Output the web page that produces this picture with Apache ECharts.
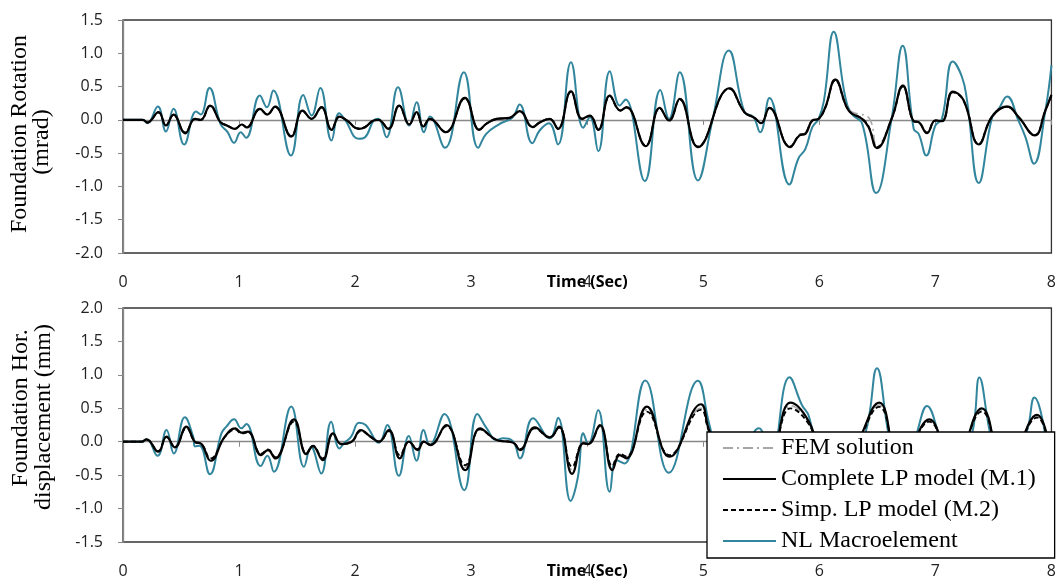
<!DOCTYPE html>
<html>
<head>
<meta charset="utf-8">
<script src="https://cdn.jsdelivr.net/npm/echarts@6/dist/echarts.min.js"></script>
<style>
  html, body { margin: 0; padding: 0; background: #fff; }
  #chart { width: 1059px; height: 581px; }
</style>
</head>
<body>
<div id="chart"></div>
<script>
// series names (legend order)
const names = ['FEM solution', 'Complete LP model (M.1)', 'Simp. LP model (M.2)', 'NL Macroelement'];

// ---- top panel: foundation rotation (mrad), [time, value] ----
const rotNL = [[0,0],[0.17,0],[0.21,-0.05],[0.30,0.2],[0.37,-0.175],[0.435,0.165],[0.527,-0.37],[0.63,0.125],[0.67,0.08],[0.745,0.48],[0.84,-0.06],[0.90,-0.18],[0.957,-0.345],[1.014,-0.185],[1.06,-0.27],[1.18,0.365],[1.24,0.19],[1.295,0.44],[1.447,-0.535],[1.553,0.375],[1.625,0.065],[1.70,0.48],[1.797,-0.31],[1.862,0.1],[1.914,0],[2.03,-0.285],[2.086,-0.26],[2.16,-0.01],[2.2,0.015],[2.27,-0.26],[2.37,0.49],[2.467,-0.085],[2.53,0.265],[2.593,-0.185],[2.645,0.05],[2.774,-0.42],[2.937,0.715],[3.06,-0.42],[3.13,-0.21],[3.246,-0.06],[3.30,-0.02],[3.36,0.04],[3.418,0.23],[3.527,-0.35],[3.59,-0.16],[3.67,-0.05],[3.748,-0.37],[3.86,0.865],[3.966,-0.12],[4.023,0.04],[4.095,-0.47],[4.195,0.73],[4.28,0.215],[4.33,0.305],[4.496,-0.92],[4.63,0.45],[4.705,0.015],[4.797,0.715],[4.954,-0.91],[5.08,0.0],[5.22,1.04],[5.355,0.115],[5.43,0.05],[5.49,-0.185],[5.57,0.33],[5.742,-0.97],[5.82,-0.58],[5.88,-0.435],[5.94,-0.11],[5.994,0.015],[6.04,0.29],[6.124,1.325],[6.224,0.34],[6.28,0.09],[6.37,-0.06],[6.49,-1.1],[6.625,0.04],[6.718,1.115],[6.813,-0.135],[6.856,-0.21],[6.922,-0.535],[7.0,-0.085],[7.057,0.015],[7.15,0.875],[7.23,0.64],[7.273,0.29],[7.374,-0.95],[7.489,0.04],[7.546,0.165],[7.618,0.35],[7.718,-0.02],[7.776,-0.26],[7.85,-0.66],[7.948,0.14],[8.0,0.82]];
const rotM1 = [[0,0],[0.17,0],[0.21,-0.04],[0.307,0.115],[0.37,-0.085],[0.435,0.08],[0.536,-0.2],[0.62,0.015],[0.67,0],[0.75,0.215],[0.84,-0.035],[0.895,-0.085],[0.966,-0.135],[1.023,-0.07],[1.066,-0.115],[1.18,0.165],[1.243,0.08],[1.31,0.2],[1.45,-0.25],[1.547,0.14],[1.625,0.015],[1.71,0.19],[1.797,-0.15],[1.865,0.05],[1.93,-0.01],[2.03,-0.135],[2.086,-0.11],[2.16,-0.01],[2.2,0],[2.287,-0.135],[2.38,0.215],[2.467,-0.07],[2.53,0.115],[2.587,-0.1],[2.645,0.015],[2.78,-0.185],[2.946,0.33],[3.07,-0.15],[3.13,-0.06],[3.22,0.015],[3.33,0.03],[3.418,0.13],[3.53,-0.11],[3.59,-0.04],[3.676,0.015],[3.748,-0.135],[3.86,0.43],[3.956,0.015],[4.023,0.065],[4.095,-0.15],[4.195,0.365],[4.286,0.14],[4.338,0.19],[4.504,-0.395],[4.625,0.18],[4.705,-0.01],[4.797,0.315],[4.954,-0.41],[5.226,0.475],[5.355,0.115],[5.441,0.03],[5.498,-0.05],[5.57,0.18],[5.748,-0.41],[5.828,-0.235],[5.88,-0.21],[5.94,-0.01],[5.994,0.015],[6.052,0.19],[6.138,0.605],[6.253,0.14],[6.368,0.015],[6.425,-0.11],[6.497,-0.425],[6.626,0.03],[6.72,0.515],[6.813,-0.02],[6.856,-0.035],[6.928,-0.2],[7.0,-0.01],[7.057,-0.02],[7.15,0.425],[7.244,0.29],[7.374,-0.37],[7.489,0.05],[7.618,0.2],[7.718,0.04],[7.856,-0.235],[7.948,0.14],[8.0,0.375]];
const rotM2 = [[0,0],[0.17,0],[0.21,-0.04],[0.307,0.11],[0.37,-0.08],[0.435,0.075],[0.536,-0.19],[0.62,0.01],[0.67,0],[0.75,0.205],[0.84,-0.03],[0.895,-0.08],[0.966,-0.13],[1.023,-0.07],[1.066,-0.11],[1.18,0.16],[1.243,0.08],[1.31,0.195],[1.45,-0.24],[1.547,0.135],[1.625,0.015],[1.71,0.185],[1.797,-0.145],[1.865,0.05],[1.93,-0.01],[2.03,-0.13],[2.086,-0.105],[2.16,-0.01],[2.2,0],[2.287,-0.13],[2.38,0.21],[2.467,-0.065],[2.53,0.11],[2.587,-0.095],[2.645,0.015],[2.78,-0.18],[2.946,0.32],[3.07,-0.145],[3.13,-0.06],[3.22,0.015],[3.33,0.03],[3.418,0.125],[3.53,-0.105],[3.59,-0.04],[3.676,0.015],[3.748,-0.13],[3.86,0.42],[3.956,0.015],[4.023,0.06],[4.095,-0.145],[4.195,0.355],[4.286,0.14],[4.338,0.185],[4.504,-0.385],[4.625,0.175],[4.705,-0.01],[4.797,0.305],[4.954,-0.4],[5.226,0.465],[5.355,0.115],[5.441,0.03],[5.498,-0.05],[5.57,0.175],[5.748,-0.4],[5.828,-0.23],[5.88,-0.2],[5.94,-0.01],[5.994,0.015],[6.052,0.185],[6.138,0.59],[6.253,0.14],[6.368,0.02],[6.425,-0.1],[6.497,-0.41],[6.626,0.03],[6.72,0.5],[6.813,-0.02],[6.856,-0.035],[6.928,-0.19],[7.0,-0.01],[7.057,-0.02],[7.15,0.415],[7.244,0.285],[7.374,-0.36],[7.489,0.05],[7.618,0.195],[7.718,0.04],[7.856,-0.23],[7.948,0.14],[8.0,0.365]];
const rotFEM = [[0,0],[0.17,0],[0.21,-0.04],[0.307,0.12],[0.37,-0.08],[0.435,0.085],[0.536,-0.21],[0.62,0.02],[0.67,0.005],[0.75,0.22],[0.84,-0.03],[0.895,-0.08],[0.966,-0.14],[1.023,-0.065],[1.066,-0.11],[1.18,0.17],[1.243,0.085],[1.31,0.205],[1.45,-0.255],[1.547,0.145],[1.625,0.02],[1.71,0.195],[1.797,-0.155],[1.865,0.055],[1.93,-0.005],[2.03,-0.14],[2.086,-0.115],[2.16,-0.005],[2.2,0.005],[2.287,-0.14],[2.38,0.22],[2.467,-0.065],[2.53,0.12],[2.587,-0.1],[2.645,0.02],[2.78,-0.19],[2.946,0.335],[3.07,-0.155],[3.13,-0.06],[3.22,0.02],[3.33,0.035],[3.418,0.135],[3.53,-0.115],[3.59,-0.04],[3.676,0.02],[3.748,-0.14],[3.86,0.44],[3.956,0.02],[4.023,0.07],[4.095,-0.155],[4.195,0.37],[4.286,0.145],[4.338,0.195],[4.504,-0.4],[4.625,0.185],[4.705,-0.005],[4.797,0.32],[4.954,-0.415],[5.226,0.48],[5.355,0.12],[5.441,0.035],[5.498,-0.045],[5.57,0.185],[5.748,-0.4],[5.828,-0.22],[5.88,-0.19],[5.94,0.0],[5.994,0.02],[6.052,0.2],[6.138,0.61],[6.253,0.16],[6.33,0.09],[6.41,0.06],[6.45,-0.05],[6.497,-0.4],[6.626,0.04],[6.72,0.52],[6.813,-0.01],[6.856,-0.03],[6.928,-0.19],[7.0,0.0],[7.057,-0.01],[7.15,0.43],[7.244,0.3],[7.374,-0.36],[7.489,0.06],[7.618,0.21],[7.718,0.05],[7.856,-0.225],[7.948,0.15],[8.0,0.38]];

// ---- bottom panel: foundation horizontal displacement (mm), [time, value] ----
const dispNL = [[0,0],[0.16,0],[0.203,0.035],[0.298,-0.21],[0.375,0.175],[0.438,-0.175],[0.533,0.365],[0.605,0.075],[0.62,-0.07],[0.66,-0.06],[0.748,-0.485],[0.848,0.125],[0.891,0.225],[0.957,0.335],[1.02,0.2],[1.063,0.265],[1.186,-0.365],[1.244,-0.21],[1.30,-0.45],[1.45,0.525],[1.56,-0.375],[1.62,-0.075],[1.708,-0.475],[1.794,0.3],[1.865,-0.1],[1.908,-0.015],[1.966,0.075],[2.034,0.285],[2.091,0.25],[2.206,-0.015],[2.277,0.25],[2.377,-0.51],[2.463,0.085],[2.529,-0.285],[2.59,0.175],[2.643,-0.05],[2.769,0.415],[2.94,-0.725],[3.054,0.415],[3.134,0.2],[3.22,0.025],[3.277,0.05],[3.363,0],[3.42,-0.25],[3.534,0.35],[3.677,0.05],[3.749,0.36],[3.857,-0.885],[3.92,-0.525],[3.966,0.125],[4.009,-0.035],[4.094,0.475],[4.194,-0.75],[4.251,-0.275],[4.32,-0.325],[4.5,0.915],[4.703,-0.465],[4.954,0.91],[5.05,0.275],[5.2,-0.65],[5.33,-0.3],[5.48,0.2],[5.58,-0.25],[5.743,0.965],[5.85,0.55],[5.91,0.38],[6.1,-0.9],[6.25,-0.35],[6.40,0.15],[6.497,1.1],[6.59,0.175],[6.7,-0.75],[6.848,0.175],[6.928,0.535],[7.02,0.15],[7.15,-0.75],[7.32,0.15],[7.379,0.96],[7.466,0.175],[7.6,-0.85],[7.796,0.2],[7.853,0.66],[7.94,0.175],[8.0,-0.72]];
const dispM1 = [[0,0],[0.16,0],[0.203,0.035],[0.304,-0.15],[0.375,0.075],[0.447,-0.085],[0.547,0.225],[0.619,0],[0.676,-0.035],[0.756,-0.285],[0.877,0.075],[0.968,0.2],[1.02,0.135],[1.077,0.15],[1.19,-0.2],[1.249,-0.125],[1.312,-0.25],[1.473,0.335],[1.58,-0.185],[1.636,-0.065],[1.72,-0.275],[1.81,0.125],[1.88,-0.035],[1.97,0.0],[2.049,0.175],[2.134,0.075],[2.206,0],[2.291,0.175],[2.386,-0.25],[2.463,0],[2.54,-0.125],[2.591,0],[2.649,-0.05],[2.786,0.25],[2.949,-0.425],[3.077,0.2],[3.22,0.025],[3.363,-0.015],[3.42,-0.125],[3.549,0.215],[3.677,0.065],[3.757,0.225],[3.87,-0.48],[3.966,-0.025],[4.009,-0.035],[4.109,0.25],[4.217,-0.425],[4.28,-0.2],[4.337,-0.25],[4.514,0.525],[4.709,-0.225],[4.98,0.56],[5.05,0.175],[5.2,-0.4],[5.35,-0.15],[5.48,0.1],[5.58,-0.2],[5.751,0.585],[5.91,0.3],[6.1,-0.5],[6.3,-0.1],[6.517,0.585],[6.7,-0.4],[6.948,0.335],[7.15,-0.4],[7.40,0.5],[7.6,-0.45],[7.876,0.4],[8.0,-0.3]];
const dispM2 = [[0,0],[0.16,0],[0.203,0.03],[0.304,-0.14],[0.375,0.07],[0.447,-0.08],[0.547,0.205],[0.619,0],[0.676,-0.03],[0.756,-0.25],[0.877,0.07],[0.968,0.18],[1.02,0.125],[1.077,0.14],[1.19,-0.18],[1.249,-0.115],[1.312,-0.23],[1.473,0.3],[1.58,-0.17],[1.636,-0.06],[1.72,-0.25],[1.81,0.115],[1.88,-0.03],[1.97,0.0],[2.049,0.16],[2.134,0.07],[2.206,0],[2.291,0.16],[2.386,-0.2],[2.463,0],[2.54,-0.11],[2.591,0],[2.649,-0.045],[2.786,0.23],[2.949,-0.35],[3.077,0.185],[3.22,0.025],[3.363,-0.015],[3.42,-0.11],[3.549,0.2],[3.677,0.06],[3.757,0.21],[3.87,-0.375],[3.966,-0.02],[4.009,-0.03],[4.109,0.23],[4.217,-0.36],[4.28,-0.18],[4.337,-0.22],[4.514,0.45],[4.709,-0.2],[4.98,0.475],[5.05,0.15],[5.2,-0.35],[5.35,-0.13],[5.48,0.09],[5.58,-0.18],[5.751,0.5],[5.91,0.26],[6.1,-0.43],[6.3,-0.09],[6.517,0.52],[6.7,-0.35],[6.948,0.3],[7.15,-0.35],[7.40,0.45],[7.6,-0.4],[7.876,0.36],[8.0,-0.27]];
const dispFEM = [[0,0],[0.16,0],[0.203,0.03],[0.304,-0.145],[0.375,0.07],[0.447,-0.08],[0.547,0.21],[0.619,0],[0.676,-0.03],[0.756,-0.26],[0.877,0.07],[0.968,0.19],[1.02,0.13],[1.077,0.145],[1.19,-0.19],[1.249,-0.12],[1.312,-0.24],[1.473,0.31],[1.58,-0.175],[1.636,-0.06],[1.72,-0.26],[1.81,0.12],[1.88,-0.03],[1.97,0.0],[2.049,0.165],[2.134,0.07],[2.206,0],[2.291,0.165],[2.386,-0.22],[2.463,0],[2.54,-0.115],[2.591,0],[2.649,-0.045],[2.786,0.24],[2.949,-0.38],[3.077,0.19],[3.22,0.03],[3.363,-0.01],[3.42,-0.115],[3.549,0.205],[3.677,0.06],[3.757,0.215],[3.87,-0.42],[3.966,-0.02],[4.009,-0.03],[4.109,0.24],[4.217,-0.39],[4.28,-0.19],[4.337,-0.23],[4.514,0.48],[4.709,-0.21],[4.98,0.5],[5.05,0.16],[5.2,-0.37],[5.35,-0.14],[5.48,0.09],[5.58,-0.19],[5.751,0.54],[5.91,0.28],[6.1,-0.46],[6.3,-0.09],[6.517,0.55],[6.7,-0.37],[6.948,0.32],[7.15,-0.37],[7.40,0.47],[7.6,-0.42],[7.876,0.38],[8.0,-0.28]];

// axis ranges / ticks
const xTicks = { min: 0, max: 8, step: 1 };
const rotRange = { min: -2.0, max: 1.5, step: 0.5 };
const dispRange = { min: -1.5, max: 2.0, step: 0.5 };

const tealColor = '#31859c';
const labelFont = 'Open Sans';
const serifFont = 'Liberation Serif';

function xAxisFor(idx) {
    return {
        type: 'value', gridIndex: idx,
        min: xTicks.min, max: xTicks.max, interval: xTicks.step,
        name: 'Time (Sec)', nameLocation: 'middle', nameGap: 21, nameMoveOverlap: false,
        nameTextStyle: { fontFamily: labelFont, fontSize: 16, fontWeight: 'bold', color: '#000' },
        axisLine: { lineStyle: { color: '#888', width: 1.3 } },
        axisTick: { show: true, length: 5, lineStyle: { color: '#888' } },
        axisLabel: { margin: 21, fontFamily: labelFont, fontSize: 16, color: '#222' },
        splitLine: { show: false }
    };
}
function yAxisFor(idx, r) {
    return {
        type: 'value', gridIndex: idx,
        min: r.min, max: r.max, interval: r.step,
        axisLine: { show: true, lineStyle: { color: '#888', width: 1.3 } },
        axisTick: { show: true, length: 5, lineStyle: { color: '#888' } },
        axisLabel: { margin: 20, fontFamily: labelFont, fontSize: 16, color: '#222',
            formatter: v => v.toFixed(1) },
        splitLine: { show: false }
    };
}
function lineSeries(name, data, idx, style) {
    return {
        name: name, type: 'line', xAxisIndex: idx, yAxisIndex: idx,
        data: data, symbol: 'none', showSymbol: false, smooth: 0.45,
        itemStyle: { color: style.color },
        lineStyle: style, animation: false
    };
}

const styles = {
    fem: { color: '#a6a6a6', width: 1.6, type: [10, 4, 2, 4] },
    m1: { color: '#000', width: 2.2, type: 'solid' },
    m2: { color: '#000', width: 1.8, type: [5, 3] },
    nl: { color: tealColor, width: 2, type: 'solid' }
};

const chart = echarts.init(document.getElementById('chart'), null, { renderer: 'canvas' });
chart.setOption({
    backgroundColor: '#fff',
    animation: false,
    grid: [
        { left: 123, top: 20, width: 930, height: 233, show: true, borderColor: '#333', borderWidth: 1.3 },
        { left: 123, top: 308, width: 930, height: 234, show: true, borderColor: '#333', borderWidth: 1.3 }
    ],
    xAxis: [xAxisFor(0), xAxisFor(1)],
    yAxis: [yAxisFor(0, rotRange), yAxisFor(1, dispRange)],
    legend: {
        orient: 'vertical', left: 707, top: 432,
        itemWidth: 53, itemHeight: 14, itemGap: 7,
        padding: [4, 19, 5, 15],
        itemStyle: { opacity: 0 },
        backgroundColor: '#fff', borderColor: '#000', borderWidth: 1.3,
        textStyle: { fontFamily: serifFont, fontSize: 24, color: '#000' },
        data: names
    },
    graphic: [
        { type: 'text', x: 20, y: 134, rotation: Math.PI / 2,
          style: { text: 'Foundation Rotation', fontFamily: serifFont, fontSize: 24, fill: '#000', textAlign: 'center', textVerticalAlign: 'middle' } },
        { type: 'text', x: 42, y: 142, rotation: Math.PI / 2,
          style: { text: '(mrad)', fontFamily: serifFont, fontSize: 24, fill: '#000', textAlign: 'center', textVerticalAlign: 'middle' } },
        { type: 'text', x: 21, y: 408, rotation: Math.PI / 2,
          style: { text: 'Foundation Hor.', fontFamily: serifFont, fontSize: 24, fill: '#000', textAlign: 'center', textVerticalAlign: 'middle' } },
        { type: 'text', x: 44, y: 417, rotation: Math.PI / 2,
          style: { text: 'displacement (mm)', fontFamily: serifFont, fontSize: 24, fill: '#000', textAlign: 'center', textVerticalAlign: 'middle' } }
    ],
    series: [
        lineSeries(names[3], rotNL, 0, styles.nl),
        lineSeries(names[0], rotFEM, 0, styles.fem),
        lineSeries(names[2], rotM2, 0, styles.m2),
        lineSeries(names[1], rotM1, 0, styles.m1),
        lineSeries(names[3], dispNL, 1, styles.nl),
        lineSeries(names[0], dispFEM, 1, styles.fem),
        lineSeries(names[2], dispM2, 1, styles.m2),
        lineSeries(names[1], dispM1, 1, styles.m1)
    ]
});
</script>
</body>
</html>
